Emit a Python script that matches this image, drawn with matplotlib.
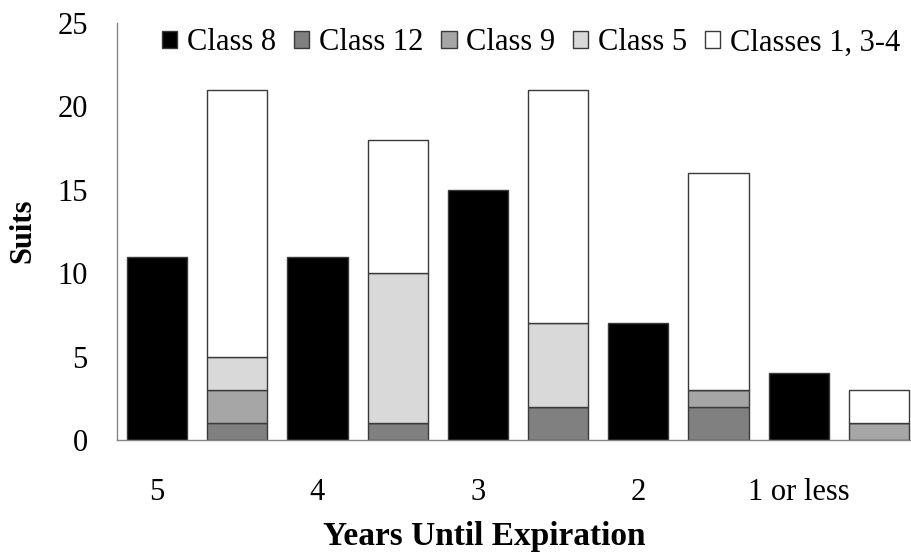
import matplotlib
matplotlib.use("Agg")
import matplotlib.pyplot as plt
import numpy as np
from matplotlib.patches import Patch

plt.rcParams['font.family'] = ['Liberation Serif', 'DejaVu Serif']

# suits per expiry group
years = ['5', '4', '3', '2', '1 or less']
class8 = [11, 11, 15, 7, 4]
class12 = [1, 1, 2, 2, 0]
class9 = [2, 0, 0, 1, 1]
class5 = [2, 9, 5, 0, 0]
classes_134 = [16, 8, 14, 13, 2]

series_names = ['Class 8', 'Class 12', 'Class 9', 'Class 5', 'Classes 1, 3-4']
series_colors = ['#000000', '#808080', '#a6a6a6', '#d9d9d9', '#ffffff']
edge = '#3a3a3a'

fig = plt.figure(figsize=(9.12, 5.54), dpi=100)
ax = fig.add_axes([117 / 912, 1 - 440 / 554, 802 / 912, 417 / 554])

pos = np.arange(len(years))
x_black = pos * 2
x_stack = pos * 2 + 1
w = 0.75

ax.bar(x_black, class8, width=w, color=series_colors[0], edgecolor=edge, linewidth=1)

bottom = np.zeros(len(years))
for vals, col in zip([class12, class9, class5, classes_134], series_colors[1:]):
    vals = np.array(vals, dtype=float)
    ax.bar(x_stack, vals, width=w, bottom=bottom, color=col, edgecolor=edge, linewidth=1)
    bottom += vals

ax.set_xlim(-0.5, 9.5)
ax.set_ylim(0, 25)
ax.set_yticks([0, 5, 10, 15, 20, 25])
ax.set_xticks(x_black)
ax.set_xticklabels(years)
ax.tick_params(axis='y', length=0, pad=21, labelsize=22)
ax.tick_params(axis='x', length=0, pad=27, labelsize=22)

for s in ['top', 'right']:
    ax.spines[s].set_visible(False)
for s in ['left', 'bottom']:
    ax.spines[s].set_color('#868686')
    ax.spines[s].set_linewidth(1)

fig.text(23 / 912, 1 - 231 / 554, 'Suits', rotation=90, fontsize=22, fontweight='bold',
         ha='center', va='center')
fig.text(484 / 912, 1 - 537 / 554, 'Years Until Expiration', fontsize=24, fontweight='bold',
         ha='center', va='center')

handles = [Patch(facecolor=c, edgecolor=edge, linewidth=1) for c in series_colors]
fig.legend(handles, series_names, loc='center', bbox_to_anchor=(531 / 912, 1 - 43 / 554),
           ncol=5, frameon=False, fontsize=22, handlelength=0.5, handleheight=0.5,
           handletextpad=0.3, columnspacing=0.6, borderaxespad=0)

fig.savefig('out.png', dpi=100)
